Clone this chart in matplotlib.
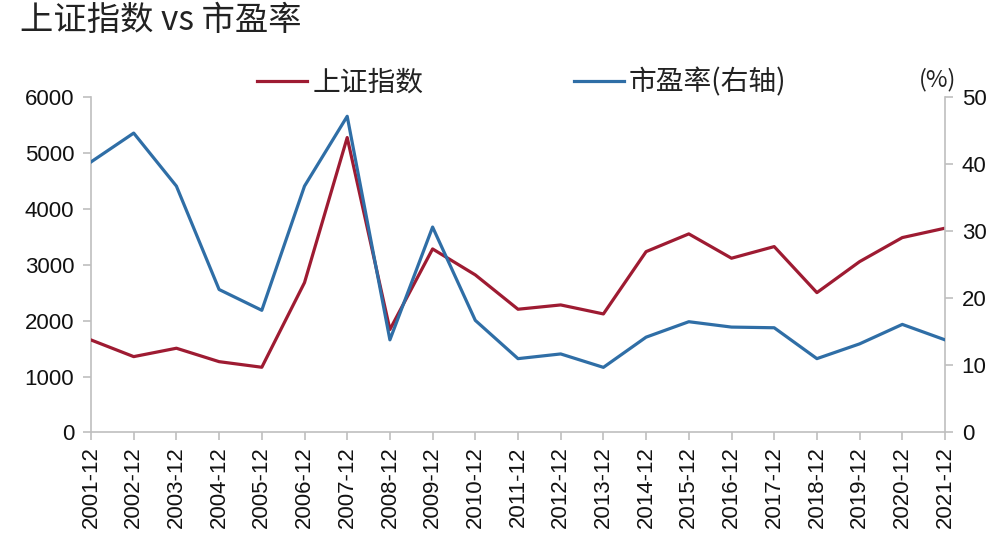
import matplotlib
matplotlib.use("Agg")
import matplotlib.pyplot as plt
from matplotlib.lines import Line2D

categories = ["2001-12", "2002-12", "2003-12", "2004-12", "2005-12", "2006-12", "2007-12",
              "2008-12", "2009-12", "2010-12", "2011-12", "2012-12", "2013-12", "2014-12",
              "2015-12", "2016-12", "2017-12", "2018-12", "2019-12", "2020-12", "2021-12"]
sse_index = [1654, 1356, 1506, 1266, 1166, 2679, 5272, 1840, 3281, 2817, 2203,
             2280, 2119, 3233, 3550, 3115, 3323, 2500, 3054, 3484, 3652]
pe_ratio = [40.3, 44.6, 36.7, 21.3, 18.2, 36.7, 47.1, 13.8, 30.6, 16.7, 11.0,
            11.7, 9.7, 14.2, 16.5, 15.7, 15.6, 11.0, 13.2, 16.1, 13.8]
left_ticks = [0, 1000, 2000, 3000, 4000, 5000, 6000]
right_ticks = [0, 10, 20, 30, 40, 50]

RED = "#9e1b32"
BLUE = "#2f6ea6"
SPINE = "#bfbfbf"
num_font = ["Liberation Sans", "DejaVu Sans"]
cjk_font = ["Noto Sans CJK SC", "DejaVu Sans"]

fig = plt.figure(figsize=(10, 5.44), dpi=100)
ax = fig.add_axes([0.091, 0.205, 0.854, 0.617])
ax2 = ax.twinx()

x = list(range(len(categories)))
ax.plot(x, sse_index, color=RED, lw=2.3, zorder=3)
ax2.plot(x, pe_ratio, color=BLUE, lw=2.3, zorder=3)

ax.set_xlim(0, len(categories) - 1)
ax.set_ylim(0, 6000)
ax2.set_ylim(0, 50)
ax.set_yticks(left_ticks)
ax2.set_yticks(right_ticks)
ax.set_xticks(x)
ax.set_xticklabels(categories, rotation=90, fontsize=16, family=num_font, color="#111111")
ax.set_yticklabels([str(v) for v in left_ticks], fontsize=16, family=num_font, color="#111111")
ax2.set_yticklabels([str(v) for v in right_ticks], fontsize=16, family=num_font, color="#111111")

for a in (ax, ax2):
    a.spines["top"].set_visible(False)
    for s in ("left", "right", "bottom"):
        a.spines[s].set_color(SPINE)
        a.spines[s].set_linewidth(1.2)
    a.tick_params(color=SPINE, length=6, width=1.2)
ax.spines["right"].set_visible(False)
ax2.spines["left"].set_visible(False)
ax2.spines["bottom"].set_visible(False)
ax.tick_params(axis="y", pad=6)
ax2.tick_params(axis="y", pad=6)
ax.tick_params(axis="x", pad=4)

fig.text(0.02, 0.962, "上证指数 vs 市盈率", fontsize=24, family=cjk_font,
         color="#222222", va="center", ha="left")

handles = [Line2D([], [], color=RED, lw=2.3), Line2D([], [], color=BLUE, lw=2.3)]
leg = fig.legend(handles, ["上证指数", "市盈率(右轴)"], loc="center left",
                 bbox_to_anchor=(0.232, 0.848), ncol=2, frameon=False,
                 prop={"family": cjk_font, "size": 20}, handlelength=1.8,
                 handletextpad=0.2, columnspacing=5.4)
for t in leg.get_texts():
    t.set_color("#222222")

fig.text(0.938, 0.853, "(%)", fontsize=17, family=cjk_font, color="#222222",
         va="center", ha="center")

fig.savefig("out.png", dpi=100, facecolor="white")
